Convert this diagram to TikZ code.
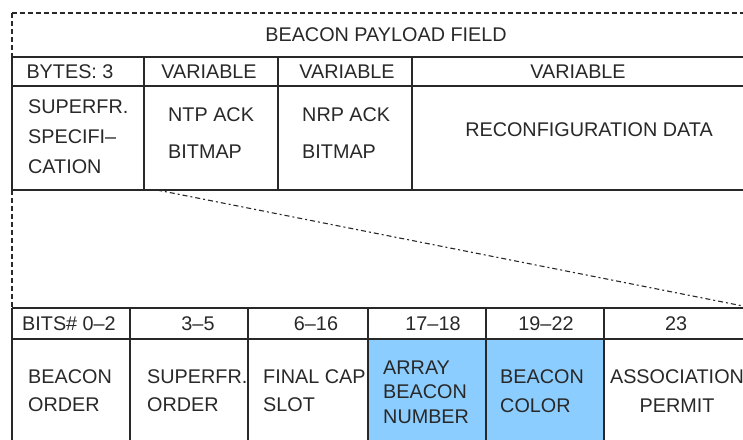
\documentclass[tikz,border=0pt]{standalone}
\usepackage{fontspec}
\setmainfont{Liberation Sans}
\definecolor{skyblue}{RGB}{140,205,255}
\definecolor{ink}{RGB}{40,40,40}
\begin{document}
\begin{tikzpicture}[x=1pt,y=-1pt,
  rule/.style={line width=1.3pt, draw=ink},
  dashrule/.style={line width=1.1pt, draw=ink, dash pattern=on 4.5pt off 3.5pt},
  slant/.style={line width=1.1pt, draw=ink, dash pattern=on 5pt off 3pt on 2pt off 3pt},
  txt/.style={inner sep=0pt, text=ink, font=\fontsize{19.8}{23}\selectfont},
  lead/.style={txt, align=left, anchor=west, font=\fontsize{19.8}{#1}\selectfont},
  leadc/.style={txt, align=center, font=\fontsize{19.8}{#1}\selectfont}
]
\useasboundingbox (0,0) rectangle (743,439);
\clip (0,0) rectangle (743,439);

% shaded fields of the bit map
\fill[skyblue] (368,339) rectangle (604,445);

% outline of the payload field (dashed)
\draw[dashrule] (12,13) -- (750,13);
\draw[dashrule] (12,13) -- (12,57);
\draw[dashrule] (12,190) -- (12,308);

% byte table
\draw[rule] (12,57) -- (750,57) (12,86) -- (750,86) (12,190) -- (750,190);
\foreach \x in {12,144,278,412} \draw[rule] (\x,57) -- (\x,190);

% bit table
\draw[rule] (12,308) -- (750,308) (12,339) -- (750,339);
\foreach \x in {12,130,248,368,486,604} \draw[rule] (\x,308) -- (\x,445);

% expansion line from the superframe field to the bit table
\coordinate (fanL) at (157,190);
\coordinate (fanR) at (743,306);
\draw[slant] (fanL) -- (fanR);

% titles and byte sizes
\node[txt] (title) at (386,35) {BEACON PAYLOAD FIELD};
\node[txt] (b1) at (70,72) {BYTES: 3};
\node[txt] (b2) at (209,72) {VARIABLE};
\node[txt] (b3) at (347,72) {VARIABLE};
\node[txt] (b4) at (578,72) {VARIABLE};

% byte fields
\node[lead=30] (f1) at (28,137) {SUPERFR.\\SPECIFI–\\CATION};
\node[lead=37] (f2) at (168,133.5) {NTP ACK\\BITMAP};
\node[lead=37] (f3) at (302,133.5) {NRP ACK\\BITMAP};
\node[txt] (f4) at (589,130) {RECONFIGURATION DATA};

% bit numbers
\node[txt,anchor=west] (n1) at (22,323.5) {BITS\# 0–2};
\node[txt] (n2) at (198,323.5) {3–5};
\node[txt] (n3) at (316,323.5) {6–16};
\node[txt] (n4) at (433,323.5) {17–18};
\node[txt] (n5) at (546,323.5) {19–22};
\node[txt] (n6) at (676,323.5) {23};

% bit fields
\node[lead=28] (g1) at (28,391) {BEACON\\ORDER};
\node[lead=28] (g2) at (147,391) {SUPERFR.\\ORDER};
\node[lead=28] (g3) at (263,391) {FINAL CAP\\SLOT};
\node[lead=24.5] (g4) at (383,392) {ARRAY\\BEACON\\NUMBER};
\node[lead=29] (g5) at (500,391) {BEACON\\COLOR};
\node[leadc=29] (g6) at (677,391) {ASSOCIATION\\PERMIT};
\end{tikzpicture}
\end{document}
